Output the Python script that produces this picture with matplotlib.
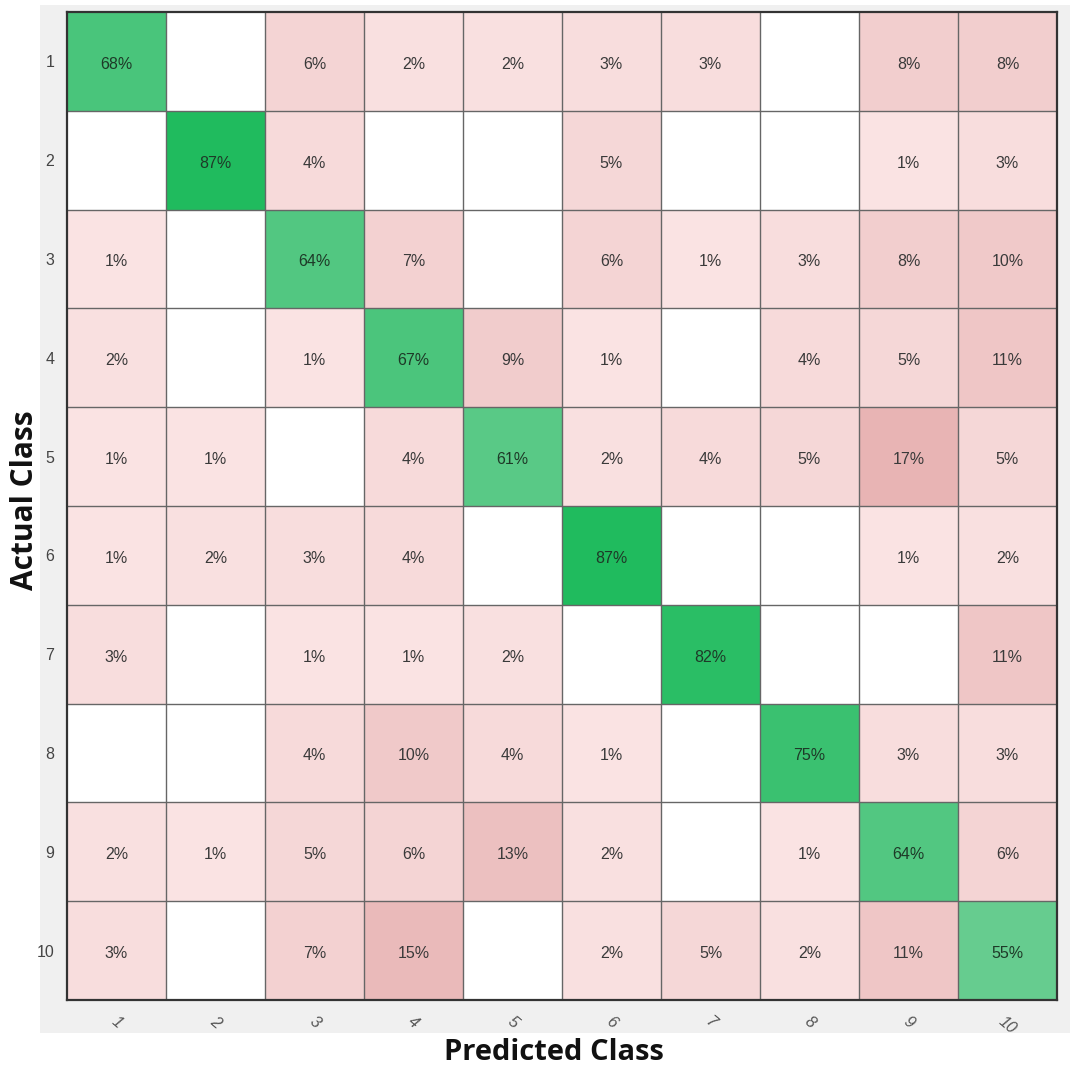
import numpy as np
import matplotlib
matplotlib.use("Agg")
import matplotlib.pyplot as plt
from matplotlib.colors import LinearSegmentedColormap, Normalize
from matplotlib.patches import Rectangle

classes = ["1", "2", "3", "4", "5", "6", "7", "8", "9", "10"]

# rows: actual class, columns: predicted class (percent of row), 0 = no samples
row_1 = [68, 0, 6, 2, 2, 3, 3, 0, 8, 8]
row_2 = [0, 87, 4, 0, 0, 5, 0, 0, 1, 3]
row_3 = [1, 0, 64, 7, 0, 6, 1, 3, 8, 10]
row_4 = [2, 0, 1, 67, 9, 1, 0, 4, 5, 11]
row_5 = [1, 1, 0, 4, 61, 2, 4, 5, 17, 5]
row_6 = [1, 2, 3, 4, 0, 87, 0, 0, 1, 2]
row_7 = [3, 0, 1, 1, 2, 0, 82, 0, 0, 11]
row_8 = [0, 0, 4, 10, 4, 1, 0, 75, 3, 3]
row_9 = [2, 1, 5, 6, 13, 2, 0, 1, 64, 6]
row_10 = [3, 0, 7, 15, 0, 2, 5, 2, 11, 55]

cm = np.array([row_1, row_2, row_3, row_4, row_5,
               row_6, row_7, row_8, row_9, row_10], dtype=float)
n = len(classes)

diag_mask = np.eye(n, dtype=bool)
correct = np.ma.masked_where(~diag_mask | (cm == 0), cm)
wrong = np.ma.masked_where(diag_mask | (cm == 0), cm)

green_cmap = LinearSegmentedColormap.from_list(
    "greens", [(222/255, 233/255, 227/255), (32/255, 187/255, 94/255)])
pink_cmap = LinearSegmentedColormap.from_list(
    "pinks", [(251/255, 230/255, 230/255), (232/255, 180/255, 180/255)])

W, H = 1078, 1071
fig = plt.figure(figsize=(W / 100, H / 100), dpi=100, facecolor="white")

# light gray panel behind the chart
fig.patches.append(Rectangle((40 / W, 1 - 1033 / H), 1030 / W, 1028 / H,
                             transform=fig.transFigure, facecolor="#f0f0f0",
                             edgecolor="none", zorder=-10))

ax = fig.add_axes([67 / W, 1 - 1000 / H, 990 / W, 988 / H])
ax.set_zorder(1)
ax.set_facecolor("white")

ax.pcolormesh(np.arange(n + 1) + 0.5, np.arange(n + 1) + 0.5, wrong,
              cmap=pink_cmap, norm=Normalize(0, 17), shading="flat")
ax.pcolormesh(np.arange(n + 1) + 0.5, np.arange(n + 1) + 0.5, correct,
              cmap=green_cmap, norm=Normalize(0, 87), shading="flat")

ax.set_xlim(0.5, n + 0.5)
ax.set_ylim(n + 0.5, 0.5)

# cell borders
for k in range(1, n):
    ax.axvline(k + 0.5, color="#666666", lw=1.0)
    ax.axhline(k + 0.5, color="#666666", lw=1.0)
for s in ax.spines.values():
    s.set_color("#333333")
    s.set_linewidth(1.6)

for i in range(n):
    for j in range(n):
        v = cm[i, j]
        if v > 0:
            col = "#1e3a28" if i == j else "#3a3a3a"
            ax.text(j + 1, i + 1.03, f"{int(v)}%", ha="center", va="center",
                    fontsize=11.5, family="Liberation Sans", color=col)

ax.set_xticks(np.arange(1, n + 1))
ax.set_yticks(np.arange(1, n + 1))
ax.set_xticklabels(classes, rotation=-40, ha="center", va="top",
                   fontsize=11.5, family="Liberation Sans", color="#555555",
                   style="italic")
ax.set_yticklabels(classes, fontsize=11.5, family="Liberation Sans",
                   color="#444444")
ax.tick_params(length=0, pad=10)
ax.tick_params(axis="y", pad=9)

fig.text(554 / W, 1 - 1052 / H, "Predicted Class", ha="center", va="center",
         fontsize=21, fontweight="bold", family="Open Sans", color="#111111")
fig.text(25 / W, 1 - 500 / H, "Actual Class", ha="center", va="center",
         rotation=90, fontsize=21.5, fontweight="bold", family="Open Sans",
         color="#111111")

fig.savefig("out.png", dpi=100, facecolor="white")
